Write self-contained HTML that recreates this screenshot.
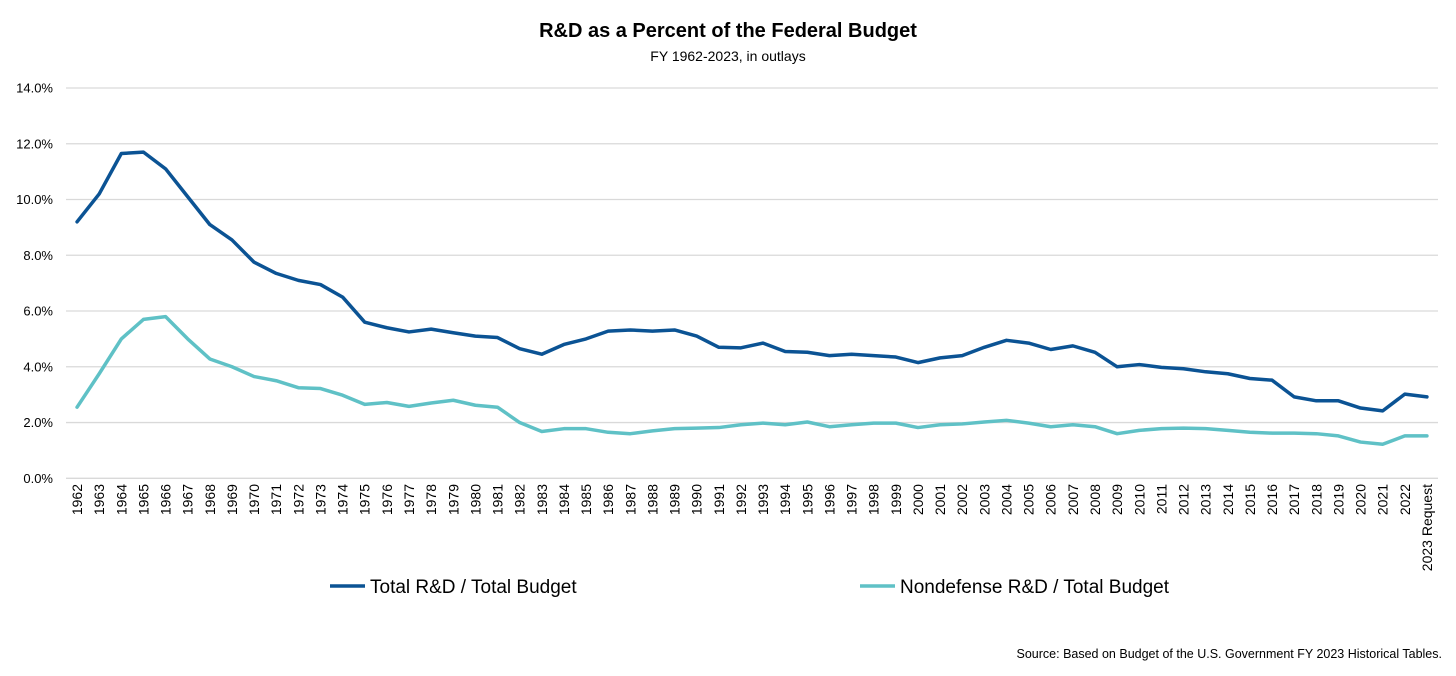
<!DOCTYPE html>
<html><head><meta charset="utf-8"><style>
body{margin:0;background:#fff;font-family:"Liberation Sans",Calibri,sans-serif}
svg text{font-family:"Liberation Sans",sans-serif}
</style></head><body>
<svg id="c" width="1456" height="671" xmlns="http://www.w3.org/2000/svg">
<text x="728" y="37" text-anchor="middle" font-size="20" font-weight="bold" fill="#000">R&amp;D as a Percent of the Federal Budget</text>
<text x="728" y="61" text-anchor="middle" font-size="14" fill="#000">FY 1962-2023, in outlays</text>
<g id="grid"></g><g id="yt"></g><g id="xt"></g><g id="lines"></g>
<g>
<line x1="330" y1="586" x2="365" y2="586" stroke="#0b5394" stroke-width="3.5"/>
<text x="370" y="593" font-size="19" fill="#000">Total R&amp;D / Total Budget</text>
<line x1="860" y1="586" x2="895" y2="586" stroke="#5fc1c6" stroke-width="3.5"/>
<text x="900" y="593" font-size="19" fill="#000">Nondefense R&amp;D / Total Budget</text>
</g>
<text x="1442" y="658" text-anchor="end" font-size="12.5" fill="#000">Source: Based on Budget of the U.S. Government FY 2023 Historical Tables.</text>
</svg>
<script>
const categories=[];for(let y=1962;y<=2022;y++)categories.push(String(y));categories.push("2023 Request");
const totalRD=[9.2,10.2,11.65,11.7,11.1,10.1,9.1,8.55,7.75,7.35,7.1,6.95,6.5,5.6,5.4,5.25,5.35,5.22,5.1,5.05,4.65,4.45,4.8,5.0,5.28,5.32,5.28,5.32,5.1,4.7,4.68,4.85,4.55,4.52,4.4,4.45,4.4,4.35,4.15,4.32,4.4,4.7,4.95,4.85,4.62,4.75,4.52,4.0,4.08,3.98,3.93,3.82,3.75,3.58,3.52,2.92,2.78,2.78,2.52,2.42,3.02,2.92];
const nondefRD=[2.55,3.75,5.0,5.7,5.8,5.0,4.28,4.0,3.65,3.5,3.25,3.22,2.98,2.65,2.72,2.58,2.7,2.8,2.62,2.55,2.0,1.68,1.78,1.78,1.65,1.6,1.7,1.78,1.8,1.82,1.92,1.98,1.92,2.02,1.85,1.92,1.98,1.98,1.82,1.92,1.95,2.02,2.08,1.98,1.85,1.92,1.85,1.6,1.72,1.78,1.8,1.78,1.72,1.65,1.62,1.62,1.6,1.52,1.3,1.22,1.52,1.52];
const yTicks=[0,2,4,6,8,10,12,14];
const NS="http://www.w3.org/2000/svg";
const X0=66,X1=1438,Y0=478.3,Y14=88;
const step=(X1-X0)/categories.length;
const xs=i=>X0+step*(i+0.5);
const ys=v=>Y0-(Y0-Y14)*v/14;
function mk(t,a,p){const e=document.createElementNS(NS,t);for(const k in a)e.setAttribute(k,a[k]);p.appendChild(e);return e;}
const grid=document.getElementById('grid'),yt=document.getElementById('yt'),xt=document.getElementById('xt'),lines=document.getElementById('lines');
yTicks.forEach(v=>{
 const l=mk('line',{x1:X0,x2:X1,y1:ys(v),y2:ys(v),stroke:'#d9d9d9','stroke-width':1.3},grid);
 
 
 const t=mk('text',{x:53,y:ys(v)+4.5,'text-anchor':'end','font-size':13,fill:'#000'},yt);
 t.textContent=v.toFixed(1)+'%';
 
 
});
categories.forEach((c,i)=>{
 const x=xs(i)+5,y=484;
 const t=mk('text',{x:x,y:y,transform:`rotate(-90 ${x} ${y})`,'text-anchor':'end','font-size':14,fill:'#000'},xt);
 t.textContent=c;
 
 
});
function series(vals,col,name){
 const p=mk('polyline',{points:vals.map((v,i)=>xs(i)+','+ys(v)).join(' '),fill:'none',stroke:col,'stroke-width':3.5,'stroke-linejoin':'round','stroke-linecap':'round'},lines);
 
 
}
series(nondefRD,'#5fc1c6','nondefense-line');
series(totalRD,'#0b5394','total-line');
</script>
</body></html>
